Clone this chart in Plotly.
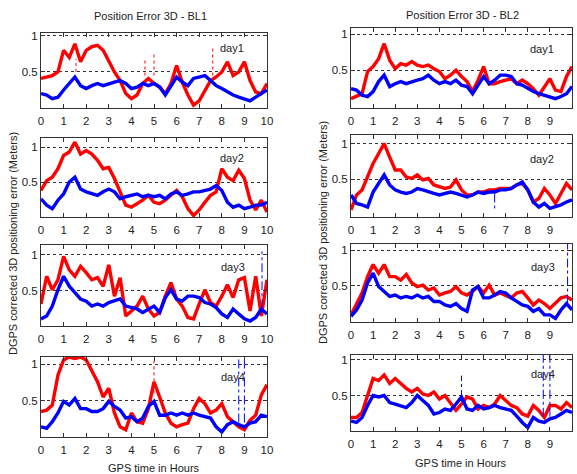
import plotly.graph_objects as go

hours = [0, 0.25, 0.5, 0.75, 1, 1.25, 1.5, 1.75, 2, 2.25, 2.5, 2.75, 3, 3.25, 3.5, 3.75,
         4, 4.25, 4.5, 4.75, 5, 5.25, 5.5, 5.75, 6, 6.25, 6.5, 6.75, 7, 7.25, 7.5, 7.75,
         8, 8.25, 8.5, 8.75, 9, 9.25, 9.5, 9.75, 10]

# BL1 (left column)
bl1_day1_red = [0.41, 0.43, 0.45, 0.5, 0.8, 0.7, 0.89, 0.64, 0.8, 0.85, 0.87, 0.8, 0.64, 0.5, 0.38, 0.2,
                0.13, 0.18, 0.34, 0.41, 0.34, 0.29, 0.2, 0.34, 0.59, 0.36, 0.18, 0.04, 0.1, 0.25, 0.38, 0.43,
                0.5, 0.64, 0.45, 0.5, 0.64, 0.38, 0.22, 0.2, 0.34]
bl1_day1_blue = [0.2, 0.18, 0.13, 0.15, 0.25, 0.34, 0.43, 0.31, 0.27, 0.31, 0.34, 0.31, 0.34, 0.36, 0.38, 0.34,
                 0.27, 0.29, 0.34, 0.31, 0.34, 0.29, 0.18, 0.31, 0.43, 0.36, 0.31, 0.41, 0.43, 0.45, 0.38, 0.31,
                 0.27, 0.22, 0.18, 0.15, 0.13, 0.1, 0.15, 0.2, 0.25]
bl1_day2_red = [0.38, 0.52, 0.57, 0.69, 0.88, 0.93, 1.07, 0.9, 0.95, 0.9, 0.81, 0.69, 0.71, 0.55, 0.36, 0.17,
                0.14, 0.19, 0.24, 0.31, 0.21, 0.19, 0.24, 0.31, 0.38, 0.29, 0.12, 0.02, 0.1, 0.21, 0.31, 0.36,
                0.69, 0.57, 0.52, 0.67, 0.55, 0.24, 0.1, 0.24, 0.07]
bl1_day2_blue = [0.26, 0.17, 0.12, 0.24, 0.33, 0.5, 0.57, 0.4, 0.36, 0.33, 0.31, 0.36, 0.4, 0.36, 0.26, 0.29,
                 0.31, 0.33, 0.29, 0.31, 0.29, 0.31, 0.26, 0.33, 0.36, 0.31, 0.33, 0.36, 0.36, 0.38, 0.4, 0.45,
                 0.38, 0.21, 0.14, 0.17, 0.12, 0.14, 0.17, 0.17, 0.21]
bl1_day3_red = [0.31, 0.7, 0.51, 0.65, 0.98, 0.79, 0.7, 0.84, 0.75, 0.65, 0.68, 0.56, 0.86, 0.42, 0.68, 0.14,
                0.21, 0.28, 0.42, 0.24, 0.14, 0.19, 0.42, 0.61, 0.38, 0.28, 0.12, 0.1, 0.31, 0.51, 0.33, 0.28,
                0.42, 0.58, 0.4, 0.65, 0.68, 0.21, 0.7, 0.14, 0.65]
bl1_day3_blue = [0.1, 0.14, 0.28, 0.51, 0.7, 0.56, 0.47, 0.38, 0.35, 0.28, 0.31, 0.28, 0.33, 0.35, 0.38, 0.28,
                 0.26, 0.24, 0.19, 0.24, 0.28, 0.19, 0.4, 0.51, 0.38, 0.35, 0.42, 0.42, 0.4, 0.33, 0.31, 0.26,
                 0.17, 0.12, 0.24, 0.17, 0.1, 0.07, 0.12, 0.24, 0.17]
bl1_day4_red = [0.35, 0.37, 0.44, 0.85, 1.06, 1.1, 1.08, 1.1, 1.06, 0.9, 0.76, 0.55, 0.67, 0.33, 0.14, 0.1,
                0.33, 0.21, 0.19, 0.39, 0.76, 0.55, 0.33, 0.19, 0.14, 0.17, 0.19, 0.39, 0.53, 0.46, 0.33, 0.37,
                0.46, 0.28, 0.21, 0.14, 0.1, 0.23, 0.3, 0.58, 0.72]
bl1_day4_blue = [0.14, 0.12, 0.21, 0.33, 0.49, 0.44, 0.53, 0.39, 0.39, 0.35, 0.35, 0.39, 0.49, 0.42, 0.37, 0.26,
                 0.28, 0.21, 0.26, 0.42, 0.49, 0.3, 0.3, 0.33, 0.3, 0.33, 0.3, 0.33, 0.3, 0.28, 0.26, 0.14,
                 0.07, 0.17, 0.21, 0.17, 0.14, 0.19, 0.21, 0.3, 0.28]

# BL2 (right column)
bl2_day1_red = [0.1, 0.13, 0.17, 0.48, 0.55, 0.66, 0.87, 0.64, 0.52, 0.59, 0.57, 0.62, 0.57, 0.55, 0.57, 0.52,
                0.48, 0.38, 0.43, 0.5, 0.41, 0.34, 0.2, 0.36, 0.55, 0.31, 0.31, 0.34, 0.36, 0.38, 0.31, 0.36,
                0.31, 0.24, 0.15, 0.27, 0.38, 0.22, 0.2, 0.41, 0.55]
bl2_day1_blue = [0.24, 0.22, 0.15, 0.13, 0.2, 0.34, 0.43, 0.27, 0.31, 0.34, 0.31, 0.34, 0.36, 0.38, 0.43, 0.36,
                 0.31, 0.34, 0.31, 0.36, 0.29, 0.27, 0.17, 0.29, 0.41, 0.31, 0.36, 0.43, 0.43, 0.41, 0.31, 0.29,
                 0.24, 0.2, 0.17, 0.15, 0.13, 0.1, 0.13, 0.17, 0.27]
bl2_day2_red = [0.07, 0.28, 0.35, 0.53, 0.72, 0.86, 1.0, 0.81, 0.63, 0.63, 0.53, 0.51, 0.56, 0.49, 0.51, 0.42,
                0.39, 0.37, 0.39, 0.49, 0.35, 0.28, 0.28, 0.32, 0.32, 0.35, 0.35, 0.37, 0.37, 0.37, 0.42, 0.44,
                0.35, 0.18, 0.23, 0.37, 0.28, 0.16, 0.3, 0.44, 0.35]
bl2_day2_blue = [0.28, 0.16, 0.14, 0.11, 0.32, 0.44, 0.56, 0.42, 0.35, 0.32, 0.3, 0.32, 0.37, 0.35, 0.32, 0.3,
                 0.28, 0.3, 0.32, 0.3, 0.28, 0.25, 0.28, 0.32, 0.3, 0.32, 0.32, 0.35, 0.35, 0.37, 0.42, 0.46,
                 0.35, 0.18, 0.11, 0.16, 0.09, 0.11, 0.14, 0.18, 0.21]
bl2_day3_red = [0.09, 0.25, 0.4, 0.63, 0.8, 0.68, 0.8, 0.63, 0.63, 0.58, 0.66, 0.54, 0.49, 0.51, 0.44, 0.47,
                0.37, 0.4, 0.42, 0.49, 0.4, 0.37, 0.42, 0.49, 0.4, 0.51, 0.37, 0.4, 0.37, 0.33, 0.4, 0.42,
                0.33, 0.23, 0.3, 0.25, 0.18, 0.25, 0.33, 0.35, 0.3]
bl2_day3_blue = [0.07, 0.16, 0.3, 0.54, 0.68, 0.49, 0.42, 0.35, 0.37, 0.33, 0.35, 0.33, 0.37, 0.33, 0.35, 0.28,
                 0.28, 0.23, 0.21, 0.25, 0.18, 0.14, 0.44, 0.49, 0.33, 0.33, 0.37, 0.42, 0.4, 0.33, 0.28, 0.23,
                 0.21, 0.14, 0.18, 0.09, 0.09, 0.04, 0.16, 0.25, 0.16]
bl2_day4_red = [0.19, 0.19, 0.26, 0.5, 0.74, 0.71, 0.79, 0.67, 0.74, 0.67, 0.6, 0.55, 0.6, 0.52, 0.5, 0.55,
                0.45, 0.5, 0.4, 0.29, 0.38, 0.48, 0.45, 0.31, 0.36, 0.33, 0.38, 0.5, 0.43, 0.36, 0.33, 0.24,
                0.21, 0.36, 0.29, 0.19, 0.36, 0.36, 0.31, 0.4, 0.33]
bl2_day4_blue = [0.14, 0.12, 0.19, 0.36, 0.5, 0.48, 0.5, 0.4, 0.38, 0.36, 0.33, 0.4, 0.5, 0.43, 0.36, 0.24,
                 0.26, 0.31, 0.29, 0.38, 0.48, 0.31, 0.29, 0.36, 0.31, 0.33, 0.36, 0.33, 0.31, 0.29, 0.21, 0.12,
                 0.05, 0.19, 0.14, 0.12, 0.17, 0.19, 0.24, 0.29, 0.26]

# sparse outlier spikes: (x, low, high)
spikes_red = {
    (0, 0): [(1.55, 0.5, 0.68), (4.6, 0.45, 0.7), (5.0, 0.45, 0.77), (7.6, 0.45, 0.84)],
    (0, 3): [(5.0, 0.6, 1.05)],
}
spikes_blue = {
    (0, 2): [(9.78, 0.25, 1.05)],
    (0, 3): [(8.75, 0.2, 1.1), (9.0, 0.2, 1.1)],
    (1, 1): [(6.5, 0.3, 0.08)],
    (1, 2): [(9.8, 0.25, 1.09)],
    (1, 3): [(8.7, 0.2, 1.07), (9.0, 0.2, 1.07), (5.0, 0.45, 0.78)],
}

red_series = [[bl1_day1_red, bl1_day2_red, bl1_day3_red, bl1_day4_red],
              [bl2_day1_red, bl2_day2_red, bl2_day3_red, bl2_day4_red]]
blue_series = [[bl1_day1_blue, bl1_day2_blue, bl1_day3_blue, bl1_day4_blue],
               [bl2_day1_blue, bl2_day2_blue, bl2_day3_blue, bl2_day4_blue]]
day_labels = ["day1", "day2", "day3", "day4"]
col_titles = ["Position Error 3D - BL1", "Position Error 3D - BL2"]
x_ticks = [0, 1, 2, 3, 4, 5, 6, 7, 8, 9, 10]
y_ticks = [0.5, 1]
y_tick_text = ["0.5", "1"]

W, H = 577, 474
col_px = [(41, 267), (351, 572)]
row_px = [[(33, 108), (138, 217), (245, 326), (357, 437)],
          [(28, 108), (135, 217), (244, 322), (355, 431)]]
y_ranges = [[(0, 1.04), (0, 1.13), (0, 1.14), (0, 1.10)],
            [(-0.03, 1.09), (-0.03, 1.12), (-0.01, 1.09), (0, 1.07)]]
label_pos = [[(8.45, 0.83), (8.45, 0.84), (8.5, 0.83), (8.5, 0.82)],
             [(8.64, 0.79), (8.64, 0.79), (8.68, 0.77), (8.68, 0.8)]]

FONT = "Liberation Sans, Arial, sans-serif"
TXT = "#222"
TICK_SIZE = 11.5
fig = go.Figure()
layout = dict(width=W, height=H, margin=dict(l=0, r=0, t=0, b=0, autoexpand=False),
              paper_bgcolor="white", plot_bgcolor="white", showlegend=False,
              font=dict(family=FONT, size=11, color=TXT))
annotations = []
idx = 0
for c in range(2):
    for r in range(4):
        idx += 1
        xn = "x" if idx == 1 else f"x{idx}"
        yn = "y" if idx == 1 else f"y{idx}"
        x0, x1 = col_px[c]
        t0, t1 = row_px[c][r]
        layout["xaxis" if idx == 1 else f"xaxis{idx}"] = dict(
            domain=[x0 / W, x1 / W], anchor=yn, range=[0, 10], tickvals=x_ticks,
            ticks="inside", ticklen=4, tickcolor="#333", mirror="ticks", showline=True,
            linecolor="#333", linewidth=1, showgrid=False, zeroline=False,
            ticklabelstandoff=2, tickfont=dict(size=TICK_SIZE, color=TXT))
        layout["yaxis" if idx == 1 else f"yaxis{idx}"] = dict(
            domain=[1 - t1 / H, 1 - t0 / H], anchor=xn, range=list(y_ranges[c][r]),
            tickvals=y_ticks, ticktext=y_tick_text, ticks="inside", ticklen=4,
            tickcolor="#333", mirror="ticks", showline=True, linecolor="#333",
            linewidth=1, showgrid=True, gridcolor="#333", griddash="dot", gridwidth=1,
            zeroline=False, tickfont=dict(size=TICK_SIZE, color=TXT))
        fig.add_trace(go.Scatter(x=hours, y=red_series[c][r], mode="lines",
                                 line=dict(color="#ff0000", width=3.4), xaxis=xn, yaxis=yn))
        for (sx, lo, hi) in spikes_red.get((c, r), []):
            fig.add_trace(go.Scatter(x=[sx, sx], y=[lo, hi], mode="lines",
                                     line=dict(color="#ff0000", width=1, dash="dot"),
                                     xaxis=xn, yaxis=yn))
        fig.add_trace(go.Scatter(x=hours, y=blue_series[c][r], mode="lines",
                                 line=dict(color="#0000ff", width=3.4), xaxis=xn, yaxis=yn))
        for (sx, lo, hi) in spikes_blue.get((c, r), []):
            fig.add_trace(go.Scatter(x=[sx, sx], y=[lo, hi], mode="lines",
                                     line=dict(color="#0000ff", width=1, dash="dashdot"),
                                     xaxis=xn, yaxis=yn))
        lx, ly = label_pos[c][r]
        annotations.append(dict(x=lx, y=ly, xref=xn, yref=yn, text=day_labels[r],
                                xanchor="center", yanchor="middle",
                                showarrow=False, font=dict(size=11, color=TXT)))

def paper_text(px, py, text, angle=0):
    return dict(x=px / W, y=1 - py / H, xref="paper", yref="paper", text=text,
                xanchor="center", yanchor="middle", textangle=angle, showarrow=False,
                font=dict(size=11, color=TXT))

annotations += [
    paper_text(150, 16, col_titles[0]),
    paper_text(462, 15, col_titles[1]),
    paper_text(154, 468, "GPS time in Hours"),
    paper_text(461, 463, "GPS time in Hours"),
    paper_text(13, 244, "DGPS corrected 3D positioning error (Meters)", -90),
    paper_text(323, 233, "DGPS corrected 3D positioning error (Meters)", -90),
]
layout["annotations"] = annotations
fig.update_layout(**layout)
fig.write_html("out.html", config={"displayModeBar": False},
               post_script="document.body.style.margin='0';document.body.style.overflow='hidden';")
